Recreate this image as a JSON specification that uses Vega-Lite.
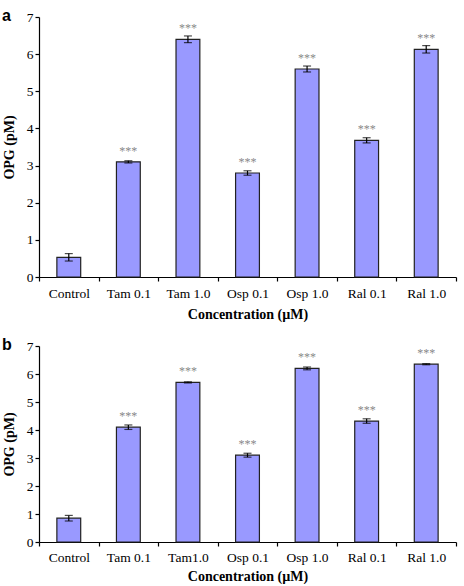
{
  "$schema": "https://vega.github.io/schema/vega-lite/v6.json",
  "padding": {"left": 2, "top": 8, "right": 5, "bottom": 0},
  "background": "white",
  "config": {
    "view": {"stroke": null},
    "font": "Liberation Serif",
    "axis": {
      "domainColor": "#000", "tickColor": "#000", "labelColor": "#000", "titleColor": "#000",
      "labelFont": "Liberation Serif", "titleFont": "Liberation Serif",
      "labelFontSize": 13.5, "titleFontSize": 14, "titleFontWeight": "bold",
      "grid": false, "tickSize": 4, "domainWidth": 1.2, "tickWidth": 1.2
    },
    "title": {"font": "Liberation Sans", "fontSize": 16, "fontWeight": "bold", "color": "#000"}
  },
  "datasets": {
    "a": [
      {"group": "Control", "value": 0.53, "err": 0.1, "stars": ""},
      {"group": "Tam 0.1", "value": 3.1, "err": 0.03, "stars": "***"},
      {"group": "Tam 1.0", "value": 6.4, "err": 0.09, "stars": "***"},
      {"group": "Osp 0.1", "value": 2.8, "err": 0.06, "stars": "***"},
      {"group": "Osp 1.0", "value": 5.6, "err": 0.08, "stars": "***"},
      {"group": "Ral 0.1", "value": 3.68, "err": 0.07, "stars": "***"},
      {"group": "Ral 1.0", "value": 6.13, "err": 0.1, "stars": "***"}
    ],
    "b": [
      {"group": "Control", "value": 0.85, "err": 0.1, "stars": ""},
      {"group": "Tam 0.1", "value": 4.1, "err": 0.08, "stars": "***"},
      {"group": "Tam1.0", "value": 5.7, "err": 0.02, "stars": "***"},
      {"group": "Osp 0.1", "value": 3.1, "err": 0.07, "stars": "***"},
      {"group": "Osp 1.0", "value": 6.2, "err": 0.05, "stars": "***"},
      {"group": "Ral 0.1", "value": 4.32, "err": 0.08, "stars": "***"},
      {"group": "Ral 1.0", "value": 6.35, "err": 0.02, "stars": "***"}
    ]
  },
  "spacing": 15,
  "vconcat": [
    {
      "width": 417, "height": 260,
      "data": {"name": "a"},
      "title": {"text": "a", "anchor": "start", "frame": "group", "dx": -37, "offset": -14},
      "encoding": {
        "x": {"field": "group", "type": "nominal", "sort": null,
              "scale": {"paddingInner": 0, "paddingOuter": 0},
              "axis": {"labelAngle": 0, "tickBand": "extent", "labelPadding": 5, "titlePadding": 8},
              "title": "Concentration (µM)"},
        "y": {"field": "value", "type": "quantitative", "scale": {"domain": [0, 7], "nice": false},
              "axis": {"tickCount": 7, "labelPadding": 2, "titlePadding": 10}, "title": "OPG (pM)"}
      },
      "layer": [
        {"mark": {"type": "bar", "width": {"band": 0.4}, "fill": "#9999ff", "stroke": "#222", "strokeWidth": 1.2}},
        {"mark": {"type": "errorbar", "color": "#000", "thickness": 1.2, "ticks": {"size": 8, "color": "#000", "thickness": 1.2}},
         "encoding": {"yError": {"field": "err"}}},
        {"mark": {"type": "text", "font": "Liberation Serif", "fontSize": 12, "fill": "#888888", "baseline": "middle", "dy": -11},
         "encoding": {"text": {"field": "stars"}}}
      ]
    },
    {
      "width": 417, "height": 196,
      "data": {"name": "b"},
      "title": {"text": "b", "anchor": "start", "frame": "group", "dx": -37, "offset": -14},
      "encoding": {
        "x": {"field": "group", "type": "nominal", "sort": null,
              "scale": {"paddingInner": 0, "paddingOuter": 0},
              "axis": {"labelAngle": 0, "tickBand": "extent", "labelPadding": 4, "titlePadding": 6},
              "title": "Concentration (µM)"},
        "y": {"field": "value", "type": "quantitative", "scale": {"domain": [0, 7], "nice": false},
              "axis": {"tickCount": 7, "labelPadding": 2, "titlePadding": 10}, "title": "OPG (pM)"}
      },
      "layer": [
        {"mark": {"type": "bar", "width": {"band": 0.4}, "fill": "#9999ff", "stroke": "#222", "strokeWidth": 1.2}},
        {"mark": {"type": "errorbar", "color": "#000", "thickness": 1.2, "ticks": {"size": 8, "color": "#000", "thickness": 1.2}},
         "encoding": {"yError": {"field": "err"}}},
        {"mark": {"type": "text", "font": "Liberation Serif", "fontSize": 12, "fill": "#888888", "baseline": "middle", "dy": -11},
         "encoding": {"text": {"field": "stars"}}}
      ]
    }
  ]
}
